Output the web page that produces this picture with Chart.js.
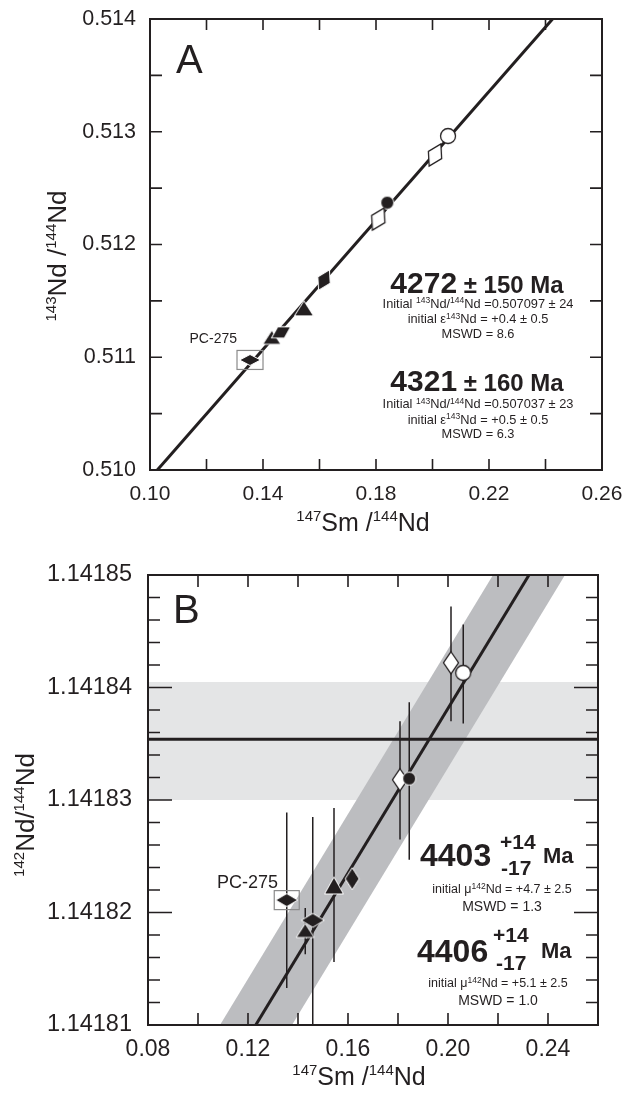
<!DOCTYPE html>
<html><head><meta charset="utf-8">
<script src="https://cdn.jsdelivr.net/npm/chart.js@4.4.0/dist/chart.umd.min.js"></script>
<style>
html,body{margin:0;padding:0;background:#fff;}
#wrap{position:relative;width:622px;height:1095px;overflow:hidden;}
#cA{position:absolute;left:0;top:0;width:622px;height:545px;}
#cB{position:absolute;left:0;top:545px;width:622px;height:550px;}
</style></head><body>
<div id="wrap">
<canvas id="cA" width="622" height="545"></canvas>
<canvas id="cB" width="622" height="550"></canvas>
</div>
<script>
// ---------------- Panel A data (147Sm/144Nd vs 143Nd/144Nd) ----------------
const aX = [0.2055, 0.2009, 0.1840, 0.1808, 0.1616, 0.1545, 0.1431, 0.1464, 0.1354];
const aY = [0.512962, 0.512794, 0.512371, 0.512226, 0.511685, 0.511434, 0.511177, 0.511221, 0.510976];
const aKinds = ['openCircle','openDiamondTilt','filledCircle','openDiamondTilt','filledDiamondTilt','triangle','triangleSmall','filledDiamondWideTilt','pcDiamond'];
const aLineX = [0.1026, 0.2425];
const aLineY = [0.5100, 0.5140];
const aXTickLabels = [0.10, 0.14, 0.18, 0.22, 0.26];
const aYTickLabels = [0.510, 0.511, 0.512, 0.513, 0.514];
const aXTickMarks = [0.10,0.12,0.14,0.16,0.18,0.20,0.22,0.24,0.26];
const aYTickMarks = [0.5100,0.5105,0.5110,0.5115,0.5120,0.5125,0.5130,0.5135,0.5140];

// ---------------- Panel B data (147Sm/144Nd vs 142Nd/144Nd) ----------------
const bX  = [0.2012, 0.2061, 0.1808, 0.1845, 0.1617, 0.1544, 0.1355, 0.1459, 0.1429];
const bY  = [1.1418422, 1.1418413, 1.1418318, 1.1418319, 1.1418230, 1.1418224, 1.1418211, 1.1418193, 1.1418184];
const bLo = [1.1418370, 1.1418368, 1.1418265, 1.1418247, null, 1.1418156, 1.1418133, 1.1418095, 1.1418163];
const bHi = [1.1418472, 1.1418456, 1.1418370, 1.1418387, null, 1.1418293, 1.1418289, 1.1418285, 1.1418204];
const bKinds = ['openDiamond','openCircle','openDiamond','filledCircle','filledDiamond','triangleB','pcDiamondB','filledDiamondWide','triangleSmall'];
const bLineX = [0.1231, 0.2324];
const bLineY = [1.14181, 1.14185];
const bRefY = 1.1418354;           // horizontal reference line
const bRefBandY = [1.14183, 1.1418405];
const bBandX = [0.1088, 0.1376, 0.2468, 0.2180];
const bBandY = [1.14181, 1.14181, 1.14185, 1.14185];
const bXTickLabels = [0.08, 0.12, 0.16, 0.20, 0.24];
const bYTickLabels = [1.14181, 1.14182, 1.14183, 1.14184, 1.14185];
const bXTickMarks = [0.08,0.10,0.12,0.14,0.16,0.18,0.20,0.22,0.24,0.26];
const bYTickMarks = [1.141810,1.141812,1.141814,1.141816,1.141818,1.141820,1.141822,1.141824,1.141826,1.141828,1.141830,1.141832,1.141834,1.141836,1.141838,1.141840,1.141842,1.141844,1.141846,1.141848,1.141850];

// ---------------- styling ----------------
const INK = '#231f20';
const FONT = '"Liberation Sans", Arial, Helvetica, sans-serif';

const markerSpecs = {
  openCircle:      {shape:'circle', w:15, h:15, fill:'#fff', stroke:INK, lw:1.3},
  filledCircle:    {shape:'circle', w:13, h:13, fill:INK, stroke:'#fff', lw:1},
  openDiamondTilt: {shape:'diamond', w:15, h:25, fill:'#fff', stroke:INK, lw:1.3, rot:28},
  filledDiamondTilt:{shape:'diamond', w:14, h:23, fill:INK, stroke:'#fff', lw:1, rot:28},
  filledDiamondWideTilt:{shape:'diamond', w:22, h:13, fill:INK, stroke:'#fff', lw:1, rot:-30},
  triangle:        {shape:'triangle', w:19, h:15, fill:INK, stroke:'#fff', lw:1},
  triangleSmall:   {shape:'triangle', w:18, h:14, fill:INK, stroke:'#fff', lw:1},
  triangleB:       {shape:'triangle', w:19, h:17, fill:INK, stroke:'#fff', lw:1},
  pcDiamond:       {shape:'diamond', w:21, h:11, fill:INK, stroke:'#fff', lw:1},
  openDiamond:     {shape:'diamond', w:15, h:22, fill:'#fff', stroke:INK, lw:1.3},
  filledDiamond:   {shape:'diamond', w:14, h:22, fill:INK, stroke:'#fff', lw:1},
  filledDiamondWide:{shape:'diamond', w:23, h:14, fill:INK, stroke:'#fff', lw:1},
  pcDiamondB:      {shape:'diamond', w:22, h:13, fill:INK, stroke:'#fff', lw:1}
};
function makeMarker(s){
  const R = Math.max(s.w, s.h)/2 + 3;
  const size = 2*Math.ceil(R);
  const c = document.createElement('canvas'); c.width = size; c.height = size;
  const g = c.getContext('2d');
  g.translate(size/2, size/2); g.rotate((s.rot||0)*Math.PI/180);
  g.beginPath();
  if (s.shape==='diamond'){ g.moveTo(0,-s.h/2); g.lineTo(s.w/2,0); g.lineTo(0,s.h/2); g.lineTo(-s.w/2,0); g.closePath(); }
  else if (s.shape==='circle'){ g.arc(0,0,s.w/2,0,2*Math.PI); }
  else { g.moveTo(0,-s.h/2); g.lineTo(s.w/2,s.h/2); g.lineTo(-s.w/2,s.h/2); g.closePath(); }
  g.fillStyle = s.fill; g.fill();
  g.lineWidth = s.lw; g.strokeStyle = s.stroke; g.stroke();
  return c;
}
const markerCache = {};
for (const k in markerSpecs) markerCache[k] = makeMarker(markerSpecs[k]);

function zipXY(xs, ys){ return xs.map((x,i)=>({x:x, y:ys[i]})); }

// rich text: parts = [{t, s, b, dy}]
function rich(ctx, parts, x, y, align){
  let total = 0;
  const f = p => (p.b ? 'bold ' : '') + p.s + 'px ' + FONT;
  for (const p of parts){ ctx.font = f(p); total += ctx.measureText(p.t).width; }
  let cx = align==='center' ? x - total/2 : (align==='right' ? x - total : x);
  ctx.textAlign = 'left';
  for (const p of parts){ ctx.font = f(p); ctx.fillText(p.t, cx, y + (p.dy||0)); cx += ctx.measureText(p.t).width; }
}

const decor = {
  id:'decor',
  afterDatasetsDraw(chart, args, o){
    const ctx = chart.ctx, xs = chart.scales.x, ys = chart.scales.y, a = chart.chartArea;
    ctx.save();
    // PC-275 box
    const bx = xs.getPixelForValue(o.box[0]), by = ys.getPixelForValue(o.box[1]);
    ctx.strokeStyle = '#8a8a8a'; ctx.lineWidth = 1.2;
    ctx.strokeRect(bx - o.boxW/2, by - o.boxH/2, o.boxW, o.boxH);
    // ticks inward on all four sides
    ctx.strokeStyle = INK; ctx.lineWidth = 1.6;
    ctx.beginPath();
    for (const v of o.xMarks){
      const px = xs.getPixelForValue(v);
      ctx.moveTo(px, a.bottom); ctx.lineTo(px, a.bottom - o.xTick);
      ctx.moveTo(px, a.top); ctx.lineTo(px, a.top + o.xTick);
    }
    for (const v of o.yMarks){
      const py = ys.getPixelForValue(v);
      const isMajor = o.yMajor.some(m => Math.abs(m - v) < 1e-9);
      const L = isMajor ? o.yTickMajor : o.yTick;
      ctx.moveTo(a.left, py); ctx.lineTo(a.left + L, py);
      ctx.moveTo(a.right, py); ctx.lineTo(a.right - L, py);
    }
    ctx.stroke();
    // frame
    ctx.lineWidth = 2; ctx.strokeStyle = INK;
    ctx.strokeRect(a.left, a.top, a.right - a.left, a.bottom - a.top);
    ctx.restore();
  },
  afterDraw(chart, args, o){
    const ctx = chart.ctx;
    ctx.save();
    ctx.fillStyle = INK;
    ctx.textBaseline = 'alphabetic';
    for (const item of o.texts){
      if (item.rot){
        ctx.save(); ctx.translate(item.x, item.y); ctx.rotate(-Math.PI/2);
        rich(ctx, item.parts, 0, 0, item.align); ctx.restore();
      } else {
        rich(ctx, item.parts, item.x, item.y, item.align);
      }
    }
    ctx.restore();
  }
};

function scaleCfg(min, max, ticksArr, dec, size, pad, fitProp, fitVal){
  return {
    type:'linear', min:min, max:max,
    grid:{display:false, drawTicks:false}, border:{display:false},
    ticks:{color:INK, font:{family:FONT, size:size}, padding:pad, callback:(v)=>Number(v).toFixed(dec)},
    afterBuildTicks:(s)=>{ s.ticks = ticksArr.map(v=>({value:v})); },
    afterFit:(s)=>{ s[fitProp] = fitVal; s.paddingTop = 0; s.paddingBottom = 0; s.paddingLeft = 0; s.paddingRight = 0; }
  };
}

// ---------------- Chart A ----------------
new Chart(document.getElementById('cA'), {
  type:'scatter',
  data:{datasets:[
    {data: zipXY(aX, aY), pointStyle: aKinds.map(k=>markerCache[k]), pointRadius:5, order:0},
    {data: zipXY(aLineX, aLineY), showLine:true, borderColor:INK, borderWidth:3, pointRadius:0, order:1}
  ]},
  options:{
    responsive:false, animation:false, events:[],
    layout:{padding:{left:0, top:19, right:20, bottom:0}},
    plugins:{legend:{display:false}, tooltip:{enabled:false},
      decor:{
        box:[aX[8], aY[8]], boxW:26, boxH:19,
        xMarks:aXTickMarks, yMarks:aYTickMarks, yMajor:[], xTick:11, yTick:12, yTickMajor:12,
        texts:[
          {x:176, y:73, align:'left', parts:[{t:'A', s:40}]},
          {x:237, y:343, align:'right', parts:[{t:'PC-275', s:14}]},
          {x:477, y:293, align:'center', parts:[{t:'4272', s:30, b:1},{t:' ± 150 Ma', s:24, b:1}]},
          {x:478, y:307.5, align:'center', parts:[{t:'Initial ', s:12.8},{t:'143', s:8.5, dy:-4.5},{t:'Nd/', s:12.8},{t:'144', s:8.5, dy:-4.5},{t:'Nd =0.507097 ± 24', s:12.8}]},
          {x:478, y:323, align:'center', parts:[{t:'initial ε', s:12.8},{t:'143', s:8.5, dy:-4.5},{t:'Nd = +0.4 ± 0.5', s:12.8}]},
          {x:478, y:338, align:'center', parts:[{t:'MSWD = 8.6', s:12.8}]},
          {x:477, y:391, align:'center', parts:[{t:'4321', s:30, b:1},{t:' ± 160 Ma', s:24, b:1}]},
          {x:478, y:408, align:'center', parts:[{t:'Initial ', s:12.8},{t:'143', s:8.5, dy:-4.5},{t:'Nd/', s:12.8},{t:'144', s:8.5, dy:-4.5},{t:'Nd =0.507037 ± 23', s:12.8}]},
          {x:478, y:423.5, align:'center', parts:[{t:'initial ε', s:12.8},{t:'143', s:8.5, dy:-4.5},{t:'Nd = +0.5 ± 0.5', s:12.8}]},
          {x:478, y:438, align:'center', parts:[{t:'MSWD = 6.3', s:12.8}]},
          {x:363, y:531, align:'center', parts:[{t:'147', s:15, dy:-10},{t:'Sm /', s:25},{t:'144', s:15, dy:-10},{t:'Nd', s:25}]},
          {x:66, y:256, rot:true, align:'center', parts:[{t:'143', s:15, dy:-10},{t:'Nd /', s:26},{t:'144', s:15, dy:-10},{t:'Nd', s:26}]}
        ]
      }
    },
    scales:{
      x: scaleCfg(0.10, 0.26, aXTickLabels, 2, 21, 12, 'height', 75),
      y: scaleCfg(0.510, 0.514, aYTickLabels, 3, 21.5, 14, 'width', 150)
    }
  },
  plugins:[decor]
});

// ---------------- Chart B ----------------
const errData = [];
bX.forEach((x,i)=>{ if (bLo[i]!==null){ errData.push({x:x,y:bLo[i]},{x:x,y:bHi[i]},{x:x,y:null}); } });

new Chart(document.getElementById('cB'), {
  type:'scatter',
  data:{datasets:[
    {data: zipXY(bX, bY), pointStyle: bKinds.map(k=>markerCache[k]), pointRadius:5, order:0},
    {data: zipXY(bLineX, bLineY), showLine:true, borderColor:INK, borderWidth:3, pointRadius:0, order:1},
    {data: [{x:0.08,y:bRefY},{x:0.26,y:bRefY}], showLine:true, borderColor:INK, borderWidth:3, pointRadius:0, order:2},
    {data: errData, showLine:true, spanGaps:false, borderColor:INK, borderWidth:1.5, pointRadius:0, order:3},
    {data: zipXY(bBandX, bBandY), showLine:true, fill:'shape', backgroundColor:'#bcbdc0', borderWidth:0, pointRadius:0, order:4},
    {data: [{x:0.08,y:bRefBandY[0]},{x:0.26,y:bRefBandY[0]},{x:0.26,y:bRefBandY[1]},{x:0.08,y:bRefBandY[1]}], showLine:true, fill:'shape', backgroundColor:'#e4e5e6', borderWidth:0, pointRadius:0, order:5}
  ]},
  options:{
    responsive:false, animation:false, events:[],
    layout:{padding:{left:0, top:30, right:24, bottom:0}},
    plugins:{legend:{display:false}, tooltip:{enabled:false},
      filler:{propagate:false},
      decor:{
        box:[bX[6], bY[6]], boxW:25, boxH:19,
        xMarks:bXTickMarks, yMarks:bYTickMarks, yMajor:bYTickLabels, xTick:12, yTick:12, yTickMajor:24,
        texts:[
          {x:173, y:78, align:'left', parts:[{t:'B', s:40}]},
          {x:278, y:343, align:'right', parts:[{t:'PC-275', s:18}]},
          {x:420, y:321, align:'left', parts:[{t:'4403', s:32, b:1}]},
          {x:500, y:304, align:'left', parts:[{t:'+14', s:21, b:1}]},
          {x:501, y:330, align:'left', parts:[{t:'-17', s:21, b:1}]},
          {x:543, y:318, align:'left', parts:[{t:'Ma', s:22, b:1}]},
          {x:502, y:348, align:'center', parts:[{t:'initial μ', s:12.5},{t:'142', s:8.5, dy:-4},{t:'Nd = +4.7 ± 2.5', s:12.5}]},
          {x:502, y:366, align:'center', parts:[{t:'MSWD = 1.3', s:14}]},
          {x:417, y:417, align:'left', parts:[{t:'4406', s:32, b:1}]},
          {x:493, y:397, align:'left', parts:[{t:'+14', s:21, b:1}]},
          {x:496, y:425, align:'left', parts:[{t:'-17', s:21, b:1}]},
          {x:541, y:413, align:'left', parts:[{t:'Ma', s:22, b:1}]},
          {x:498, y:442, align:'center', parts:[{t:'initial μ', s:12.5},{t:'142', s:8.5, dy:-4},{t:'Nd = +5.1 ± 2.5', s:12.5}]},
          {x:498, y:460, align:'center', parts:[{t:'MSWD = 1.0', s:14}]},
          {x:359, y:540, align:'center', parts:[{t:'147', s:15, dy:-10},{t:'Sm /', s:25},{t:'144', s:15, dy:-10},{t:'Nd', s:25}]},
          {x:34, y:270, rot:true, align:'center', parts:[{t:'142', s:15, dy:-10},{t:'Nd/', s:26},{t:'144', s:15, dy:-10},{t:'Nd', s:26}]}
        ]
      }
    },
    scales:{
      x: scaleCfg(0.08, 0.26, bXTickLabels, 2, 23, 11, 'height', 70),
      y: scaleCfg(1.14181, 1.14185, bYTickLabels, 5, 23.5, 16, 'width', 148)
    }
  },
  plugins:[decor]
});
</script>
</body></html>
